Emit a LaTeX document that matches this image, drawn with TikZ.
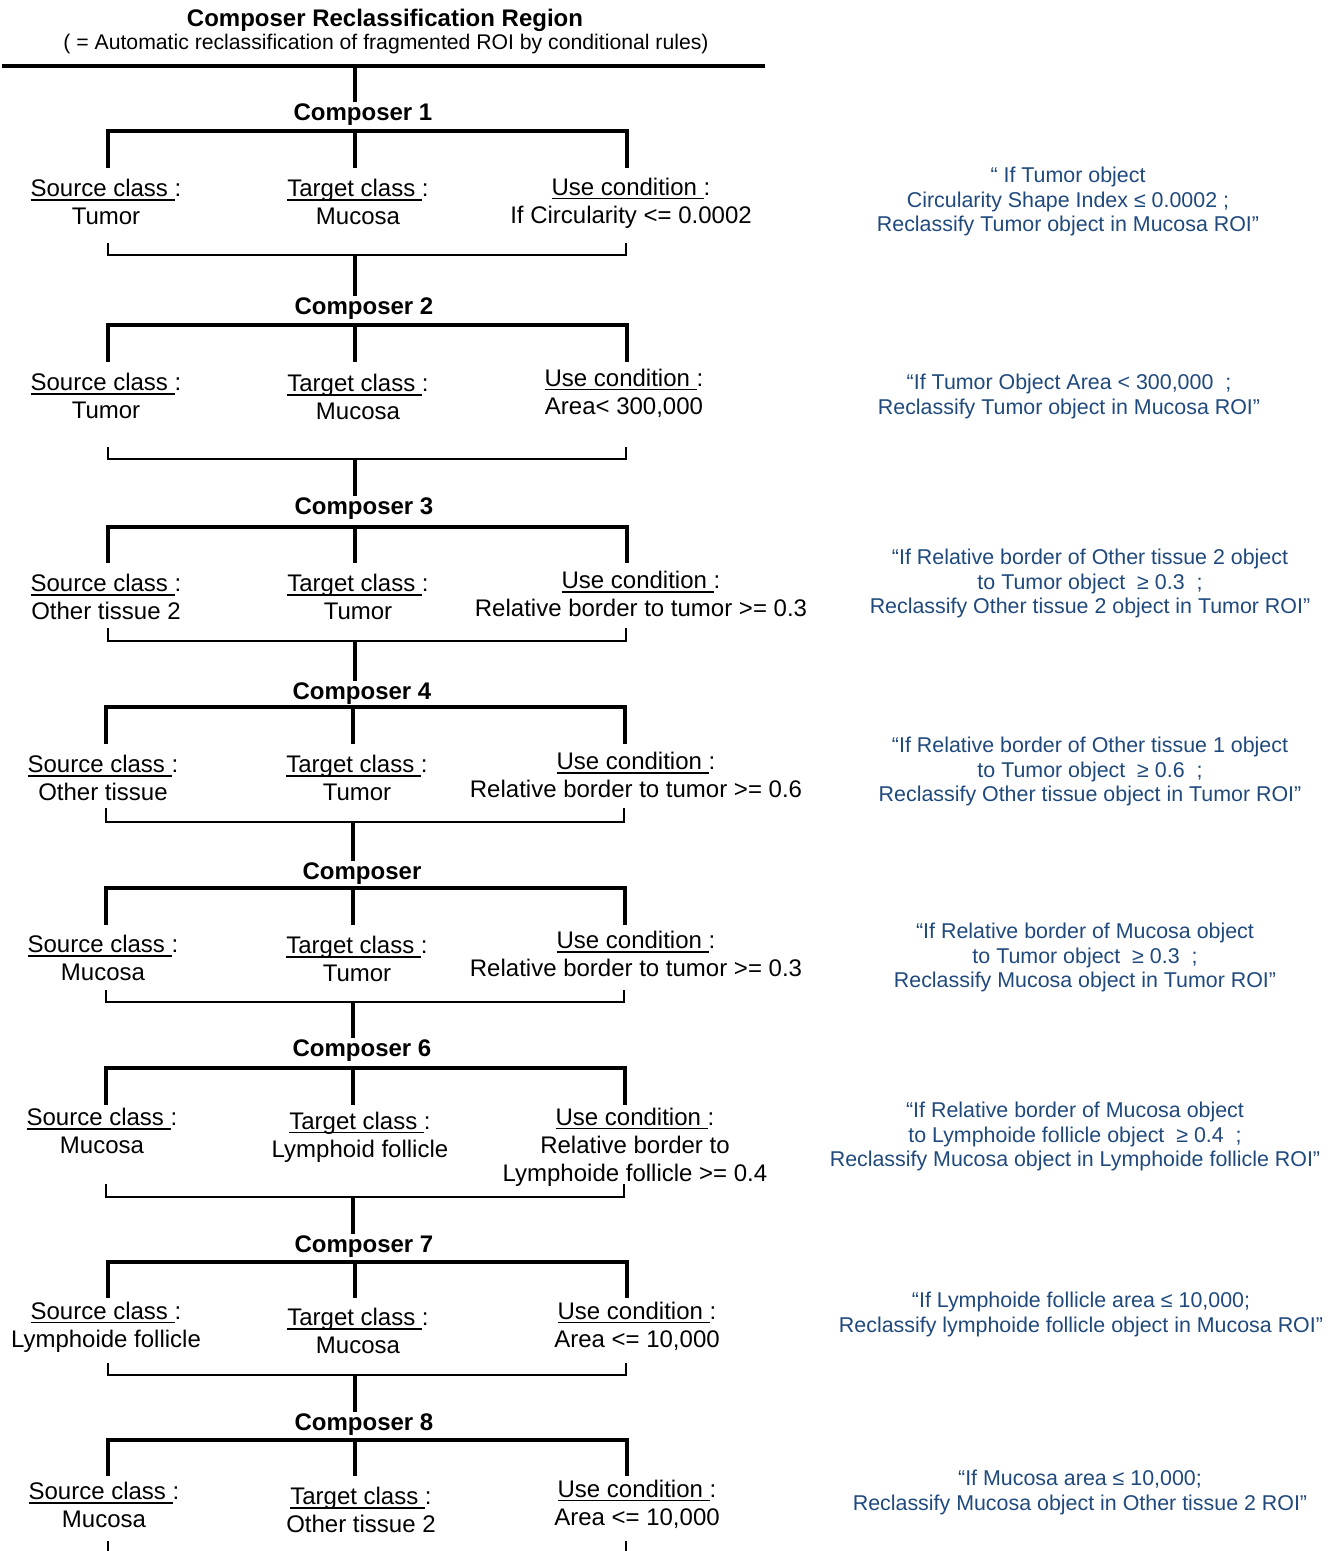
\documentclass[tikz,border=0pt]{standalone}
\usepackage{fontspec}
\setmainfont{Liberation Sans}
\definecolor{noteblue}{RGB}{31,73,125}
\newcommand\ulx[1]{\setbox0\hbox{#1}\rlap{\rule[-4pt]{\wd0}{1.6pt}}\box0}
\begin{document}
\begin{tikzpicture}[x=1pt,y=-1pt,
  bar/.style={line width=4pt},
  thinbar/.style={line width=1.3pt},
  blk/.style={inner sep=0pt,align=center,font=\fontsize{24pt}{28pt}\selectfont},
  ublk/.style={blk,yshift=-2pt},
  lbl/.style={inner sep=2pt,yshift=-3pt,font=\fontsize{24pt}{28pt}\selectfont\bfseries},
  note/.style={inner sep=0pt,align=center,yshift=-2.5pt,text=noteblue,font=\fontsize{21.4pt}{24.4pt}\selectfont}]
\useasboundingbox (0,0) rectangle (1334,1551);
% title
\node[lbl] (title) at (385,17) {Composer Reclassification Region};
\node[inner sep=0pt,yshift=-2pt,font=\fontsize{21.2pt}{24pt}\selectfont] (sub) at (386,42) {( = Automatic reclassification of fragmented ROI by conditional rules)};
\coordinate (topL) at (2,66);
\coordinate (topR) at (765,66);
\coordinate (topM) at (355,66);
\draw[bar] (topL) -- (topR);

% ---------- Composer 1
\node[lbl] (C1) at (363,112) {Composer 1};
\draw[bar] (topM) -- (topM |- C1.north);
\node[blk] (S1) at (106,202) {\ulx{Source class\ }:\\Tumor};
\node[blk] (T1) at (358,202) {\ulx{Target class\ }:\\Mucosa};
\node[ublk] (U1) at (631,201) {\ulx{Use condition\ }:\\If Circularity <= 0.0002};
\coordinate (a1) at (108,131); \coordinate (m1) at (355,131); \coordinate (b1) at (627,131);
\draw[bar] (108,168) -- (a1) -- (b1) -- (627,168);
\draw[bar] (m1) -- (355,168);
\draw[thinbar] (108,243) -- (108,255) -- (626,255) -- (626,243);
\coordinate (k1) at (355,255);
\node[note] (N1) at (1068,199) {“ If Tumor object\\Circularity Shape Index ≤ 0.0002 ;\\Reclassify Tumor object in Mucosa ROI”};

% ---------- Composer 2
\node[lbl] (C2) at (364,306) {Composer 2};
\draw[bar] (k1) -- (k1 |- C2.north);
\node[blk] (S2) at (106,396) {\ulx{Source class\ }:\\Tumor};
\node[blk] (T2) at (358,397) {\ulx{Target class\ }:\\Mucosa};
\node[ublk] (U2) at (624,391) {\ulx{Use condition\ }:\\Area< 300,000};
\coordinate (a2) at (108,325); \coordinate (m2) at (355,325); \coordinate (b2) at (627,325);
\draw[bar] (108,362) -- (a2) -- (b2) -- (627,362);
\draw[bar] (m2) -- (355,362);
\draw[thinbar] (108,447) -- (108,459) -- (626,459) -- (626,447);
\coordinate (k2) at (355,459);
\node[note] (N2) at (1069,394) {“If Tumor Object Area < 300,000 \ ;\\Reclassify Tumor object in Mucosa ROI”};

% ---------- Composer 3
\node[lbl] (C3) at (364,506) {Composer 3};
\draw[bar] (k2) -- (k2 |- C3.north);
\node[blk] (S3) at (106,597) {\ulx{Source class\ }:\\Other tissue 2};
\node[blk] (T3) at (358,597) {\ulx{Target class\ }:\\Tumor};
\node[ublk] (U3) at (641,592) {\ulx{Use condition\ }:\\Relative border to tumor >= 0.3};
\coordinate (a3) at (108,527); \coordinate (m3) at (355,527); \coordinate (b3) at (627,527);
\draw[bar] (108,563) -- (a3) -- (b3) -- (627,563);
\draw[bar] (m3) -- (355,563);
\draw[thinbar] (108,628) -- (108,641) -- (626,641) -- (626,628);
\coordinate (k3) at (355,641);
\node[note] (N3) at (1090,581) {“If Relative border of Other tissue 2 object\\to Tumor object \ ≥ 0.3 \ ;\\Reclassify Other tissue 2 object in Tumor ROI”};

% ---------- Composer 4
\node[lbl] (C4) at (362,691) {Composer 4};
\draw[bar] (k3) -- (k3 |- C4.north);
\node[blk] (S4) at (103,778) {\ulx{Source class\ }:\\Other tissue};
\node[blk] (T4) at (357,778) {\ulx{Target class\ }:\\Tumor};
\node[ublk] (U4) at (636,773) {\ulx{Use condition\ }:\\Relative border to tumor >= 0.6};
\coordinate (a4) at (106,707); \coordinate (m4) at (353,707); \coordinate (b4) at (625,707);
\draw[bar] (106,744) -- (a4) -- (b4) -- (625,744);
\draw[bar] (m4) -- (353,744);
\draw[thinbar] (106,808) -- (106,822) -- (624,822) -- (624,808);
\coordinate (k4) at (353,822);
\node[note] (N4) at (1090,769) {“If Relative border of Other tissue 1 object\\to Tumor object \ ≥ 0.6 \ ;\\Reclassify Other tissue object in Tumor ROI”};

% ---------- Composer (5)
\node[lbl] (C5) at (362,871) {Composer};
\draw[bar] (k4) -- (k4 |- C5.north);
\node[blk] (S5) at (103,958) {\ulx{Source class\ }:\\Mucosa};
\node[blk] (T5) at (357,959) {\ulx{Target class\ }:\\Tumor};
\node[ublk] (U5) at (636,952) {\ulx{Use condition\ }:\\Relative border to tumor >= 0.3};
\coordinate (a5) at (106,888); \coordinate (m5) at (353,888); \coordinate (b5) at (625,888);
\draw[bar] (106,925) -- (a5) -- (b5) -- (625,925);
\draw[bar] (m5) -- (353,925);
\draw[thinbar] (106,990) -- (106,1002) -- (624,1002) -- (624,990);
\coordinate (k5) at (353,1002);
\node[note] (N5) at (1085,955) {“If Relative border of Mucosa object\\to Tumor object \ ≥ 0.3 \ ;\\Reclassify Mucosa object in Tumor ROI”};

% ---------- Composer 6
\node[lbl] (C6) at (362,1048) {Composer 6};
\draw[bar] (k5) -- (k5 |- C6.north);
\node[blk] (S6) at (102,1131) {\ulx{Source class\ }:\\Mucosa};
\node[blk] (T6) at (360,1137) {\ulx{Target class\ }:\\Lymphoid follicle};
\node[ublk] (U6) at (635,1145) {\ulx{Use condition\ }:\\Relative border to\\Lymphoide follicle >= 0.4};
\coordinate (a6) at (106,1068); \coordinate (m6) at (353,1068); \coordinate (b6) at (625,1068);
\draw[bar] (106,1105) -- (a6) -- (b6) -- (625,1105);
\draw[bar] (m6) -- (353,1105);
\draw[thinbar] (106,1184) -- (106,1197) -- (624,1197) -- (624,1184);
\coordinate (k6) at (353,1197);
\node[note] (N6) at (1075,1134) {“If Relative border of Mucosa object\\to Lymphoide follicle object \ ≥ 0.4 \ ;\\Reclassify Mucosa object in Lymphoide follicle ROI”};

% ---------- Composer 7
\node[lbl] (C7) at (364,1244) {Composer 7};
\draw[bar] (k6) -- (k6 |- C7.north);
\node[blk] (S7) at (106,1327) {\ulx{Source class\ }:\\Lymphoide follicle};
\node[blk] (T7) at (358,1331) {\ulx{Target class\ }:\\Mucosa};
\node[ublk] (U7) at (637,1324) {\ulx{Use condition\ }:\\Area <= 10,000};
\coordinate (a7) at (108,1262); \coordinate (m7) at (355,1262); \coordinate (b7) at (627,1262);
\draw[bar] (108,1298) -- (a7) -- (b7) -- (627,1298);
\draw[bar] (m7) -- (355,1298);
\draw[thinbar] (108,1363) -- (108,1375) -- (626,1375) -- (626,1363);
\coordinate (k7) at (355,1375);
\node[note] (N7) at (1081,1312) {“If Lymphoide follicle area ≤ 10,000;\\Reclassify lymphoide follicle object in Mucosa ROI”};

% ---------- Composer 8
\node[lbl] (C8) at (364,1422) {Composer 8};
\draw[bar] (k7) -- (k7 |- C8.north);
\node[blk] (S8) at (104,1505) {\ulx{Source class\ }:\\Mucosa};
\node[blk] (T8) at (361,1510) {\ulx{Target class\ }:\\Other tissue 2};
\node[ublk] (U8) at (637,1502) {\ulx{Use condition\ }:\\Area <= 10,000};
\coordinate (a8) at (108,1440); \coordinate (m8) at (355,1440); \coordinate (b8) at (627,1440);
\draw[bar] (108,1476) -- (a8) -- (b8) -- (627,1476);
\draw[bar] (m8) -- (355,1476);
\draw[thinbar] (108,1541) -- (108,1551);
\draw[thinbar] (626,1541) -- (626,1551);
\node[note] (N8) at (1080,1490) {“If Mucosa area ≤ 10,000;\\Reclassify Mucosa object in Other tissue 2 ROI”};
\end{tikzpicture}
\end{document}
